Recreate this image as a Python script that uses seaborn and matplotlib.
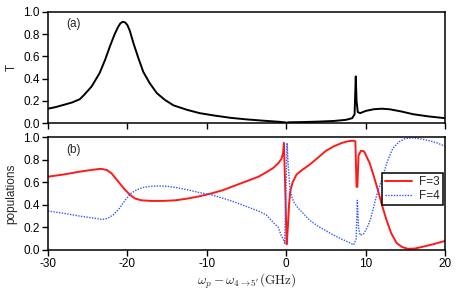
import pandas as pd
import seaborn as sns
import matplotlib
import matplotlib.pyplot as plt
matplotlib.use('Agg')

sns.set_theme(style="ticks")
plt.rcParams['font.family'] = ['Liberation Sans', 'DejaVu Sans']
plt.rcParams['mathtext.fontset'] = 'cm'

# transmission, panel (a)
t_x = [-30, -29, -28, -27, -26, -25.5, -24.5, -23.5, -22.8, -22.2, -21.6, -21.2, -20.9, -20.6, -20.3, -20.0, -19.7,
       -19.25, -18.6, -18, -17.2, -16.3, -15.3, -14.2, -12.5, -10.9, -9, -7, -5, -3, -1, -0.2, 0, 0.3,
       2, 4, 6, 7.5, 8.3, 8.6, 8.75, 8.85, 9.0, 9.3, 10, 11, 12, 13, 14.5, 16, 18, 20]
t_y = [0.13, 0.145, 0.165, 0.185, 0.215, 0.25, 0.33, 0.45, 0.57, 0.69, 0.8, 0.86, 0.895, 0.91, 0.905, 0.88, 0.83,
       0.72, 0.58, 0.46, 0.36, 0.27, 0.21, 0.16, 0.12, 0.09, 0.068, 0.048, 0.034, 0.023, 0.013, 0.008, 0.004, 0.008,
       0.01, 0.014, 0.02, 0.03, 0.045, 0.08, 0.42, 0.2, 0.1, 0.09, 0.11, 0.125, 0.13, 0.125, 0.105, 0.08, 0.06, 0.045]

# populations, panel (b)
f3_x = [-30, -28, -26, -24, -23.3, -22.6, -22, -21.3, -20.5, -19.7, -19, -18.2, -17, -15.5, -14,
        -12.5, -11, -9.5, -8, -6.5, -5, -3.5, -2.5, -1.6, -1, -0.6, -0.4, -0.3, -0.15, 0.05, 0.2,
        0.35, 0.5, 0.8, 1.3, 2, 3, 4, 5, 6, 7, 7.8, 8.4, 8.7, 8.85, 8.95, 9.1, 9.4, 9.8, 10.5, 11,
        11.5, 12, 12.6, 13.2, 13.9, 14.6, 15.3, 16.2, 17.3, 18.5, 20]
f3_y = [0.65, 0.67, 0.695, 0.715, 0.72, 0.71, 0.68, 0.62, 0.55, 0.49, 0.455, 0.44, 0.435, 0.435, 0.44,
        0.455, 0.475, 0.5, 0.53, 0.57, 0.61, 0.65, 0.69, 0.73, 0.77, 0.81, 0.86, 0.95, 0.6, 0.05, 0.2,
        0.4, 0.52, 0.6, 0.67, 0.71, 0.76, 0.82, 0.88, 0.92, 0.95, 0.965, 0.97, 0.965, 0.56, 0.56, 0.84,
        0.88, 0.875, 0.77, 0.66, 0.54, 0.41, 0.27, 0.15, 0.06, 0.025, 0.01, 0.012, 0.03, 0.05, 0.08]

f4_x = [-30, -28, -26, -24, -23.2, -22.5, -21.8, -21, -20.3, -19.6, -18.8, -18, -17, -16, -15, -14,
        -12.5, -11, -9.5, -8, -6.5, -5, -3.5, -2.5, -1.6, -1, -0.65, -0.35, -0.2, -0.05, 0.1, 0.25,
        0.45, 0.7, 1.0, 1.5, 2.2, 3, 4, 5, 6, 7, 7.8, 8.5, 8.8, 8.95, 9.1, 9.3, 9.7, 10.2, 10.6,
        11.4, 12, 12.7, 13.4, 14.2, 15, 16, 17, 18, 19, 20]
f4_y = [0.345, 0.325, 0.30, 0.28, 0.27, 0.28, 0.31, 0.37, 0.44, 0.50, 0.535, 0.555, 0.565, 0.568, 0.565, 0.555,
        0.535, 0.51, 0.49, 0.46, 0.425, 0.385, 0.345, 0.31, 0.24, 0.2, 0.13, 0.09, 0.06, 0.5, 0.95, 0.75,
        0.55, 0.47, 0.42, 0.37, 0.32, 0.26, 0.21, 0.17, 0.13, 0.095, 0.07, 0.045, 0.1, 0.44, 0.2, 0.13, 0.14, 0.2, 0.27,
        0.49, 0.62, 0.78, 0.9, 0.96, 0.99, 0.995, 0.985, 0.97, 0.95, 0.92]

t_df = pd.DataFrame({'x': t_x, 'T': t_y})
f3_df = pd.DataFrame({'x': f3_x, 'pop': f3_y})
f4_df = pd.DataFrame({'x': f4_x, 'pop': f4_y})

fig = plt.figure(figsize=(4.57, 2.94), dpi=100)
ax1 = fig.add_axes([0.105, 0.581, 0.869, 0.379])
ax2 = fig.add_axes([0.105, 0.150, 0.869, 0.383])

tick_fs = 8.5
sns.lineplot(x='x', y='T', data=t_df, ax=ax1, color='black', lw=1.4, estimator=None, sort=False)
sns.lineplot(x='x', y='pop', data=f3_df, ax=ax2, color='#ff1a1a', lw=1.4, estimator=None, sort=False, label='F=3')
sns.lineplot(x='x', y='pop', data=f4_df, ax=ax2, color='#3355ff', lw=1.0, ls=(0, (1, 1)), estimator=None, sort=False, label='F=4')

for ax in (ax1, ax2):
    ax.set_xlim(-30, 20)
    ax.set_ylim(0, 1)
    ax.set_xticks([-30, -20, -10, 0, 10, 20])
    ax.set_yticks([0, 0.2, 0.4, 0.6, 0.8, 1.0])
    ax.set_yticklabels(['0.0', '0.2', '0.4', '0.6', '0.8', '1.0'])
    ax.tick_params(direction='out', length=4, width=1, labelsize=tick_fs, colors='black', pad=2)
    for s in ax.spines.values():
        s.set_linewidth(1.1)
        s.set_color('black')

ax1.set_xticklabels([])
ax1.set_xlabel('')
ax1.set_ylabel('T', fontsize=tick_fs)
ax1.text(0.045, 0.86, '(a)', transform=ax1.transAxes, fontsize=tick_fs)

ax2.set_xticklabels(['-30', '-20', '-10', '0', '10', '20'])
ax2.set_ylabel('populations', fontsize=tick_fs)
ax2.set_xlabel(r'$\omega_p - \omega_{4\rightarrow 5^{\prime}}(\mathrm{GHz})$', fontsize=9.5, labelpad=1)
ax2.text(0.045, 0.86, '(b)', transform=ax2.transAxes, fontsize=tick_fs)

leg = ax2.legend(loc='center right', bbox_to_anchor=(0.995, 0.54), fontsize=tick_fs, frameon=True,
                 fancybox=False, framealpha=1, edgecolor='black', handlelength=2.3,
                 borderpad=0.25, labelspacing=0.15, handletextpad=0.6, borderaxespad=0)
leg.get_frame().set_linewidth(1.1)

fig.savefig('out.png', dpi=100)
